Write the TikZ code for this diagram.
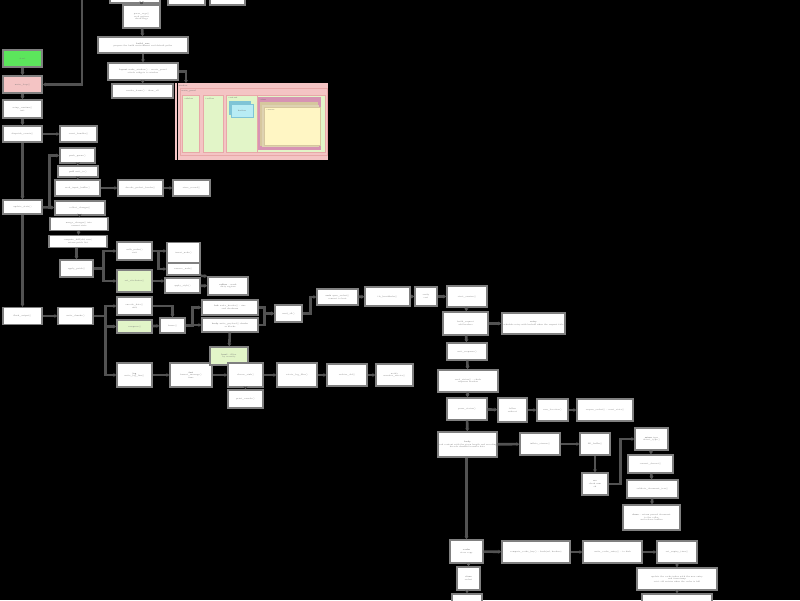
\documentclass[tikz,border=0pt]{standalone}
\usepackage{tikz}
\usetikzlibrary{arrows.meta}

\definecolor{brightgreen}{HTML}{5CE65C}
\definecolor{softgreen}{HTML}{E2F5C8}
\definecolor{softpink}{HTML}{F4C4C4}
\definecolor{deeppink}{HTML}{E8A8A8}
\definecolor{softcyan}{HTML}{B8ECF4}
\definecolor{shadecyan}{HTML}{7FC4D6}
\definecolor{softyellow}{HTML}{FFF6C4}
\definecolor{shadetan}{HTML}{D6C79E}

\tikzset{
  box/.style={draw=black!50, line width=1.4pt, fill=white, inner sep=0pt, align=center,
    font=\fontsize{2}{2.6}\selectfont, text=black!55},
  greenbox/.style={box, fill=brightgreen},
  pinkbox/.style={box, fill=softpink},
  leafbox/.style={box, fill=softgreen},
  conn/.style={draw=black!68, line width=2.6pt, -{Stealth[length=3pt,width=4pt]}},
  tag/.style={font=\fontsize{2}{2.6}\selectfont, text=black!60, inner sep=0.5pt, anchor=north west}
}

\begin{document}
\begin{tikzpicture}[x=1pt, y=-1pt]
    \useasboundingbox (0,0) rectangle (800,600);
    \fill[black] (0,0) rectangle (800,600);

    % top column
    \node[box, minimum width=50pt, minimum height=10pt] (topa) at (135,-2) {};
    \node[box, minimum width=37pt, minimum height=10pt] (topb) at (186.5,0) {};
    \node[box, minimum width=35pt, minimum height=10pt] (topc) at (227.5,0) {};
    \node[box, minimum width=37pt, minimum height=23pt] (parse) at (141.5,16.5) {parse\_args()\\ read options\\ check flags};
    \node[box, minimum width=90pt, minimum height=16pt] (build) at (143,45) {\textbf{build\_env}\\ prepare the build environment and default paths};
    \node[box, minimum width=70pt, minimum height=17pt] (layout) at (143,71.5) {\textbf{layout} make\_window() -- create\_panel\\ attach widgets to window};
    \node[box, minimum width=61pt, minimum height=14pt] (render) at (142.5,91) {render\_frame() -- draw\_all};

    % left column
    \node[greenbox, minimum width=39pt, minimum height=17pt] (start) at (22.5,58.5) {start};
    \node[pinkbox, minimum width=39pt, minimum height=17pt] (entry) at (22.5,84.5) {main\_loop()};
    \node[box, minimum width=39pt, minimum height=18pt] (setup) at (22.5,109) {setup\_runtime()\\ init};
    \node[box, minimum width=39pt, minimum height=16pt] (events) at (22.5,134) {dispatch\_events()};
    \node[box, minimum width=37pt, minimum height=16pt] (handler) at (78.5,134) {event\_handler()};
    \node[box, minimum width=35pt, minimum height=15pt] (queue) at (77.5,155.5) {push\_queue()};
    \node[box, minimum width=40pt, minimum height=11pt] (poll) at (78,171.5) {\textbf{poll} wait\_io()};
    \node[box, minimum width=45pt, minimum height=16pt] (readin) at (77.5,188) {read\_input\_buffer()};
    \node[box, minimum width=45pt, minimum height=16pt] (decode) at (140.5,188) {decode\_packet\_header()};
    \node[box, minimum width=37pt, minimum height=16pt] (store) at (191.5,188) {store\_record()};
    \node[box, minimum width=39pt, minimum height=14pt] (update) at (22.5,207) {update\_state()};
    \node[box, minimum width=50pt, minimum height=14pt] (collect) at (80,208) {collect\_changes()};
    \node[box, minimum width=58pt, minimum height=13pt] (merge) at (79,224) {merge\_changes() into\\ current state};
    \node[box, minimum width=58pt, minimum height=12pt] (diff) at (78,241.5) {compute\_diff(old, new)\\ return patch list};
    \node[box, minimum width=33pt, minimum height=17pt] (patch) at (76.5,268.5) {apply\_patch()};
    \node[box, minimum width=35pt, minimum height=18pt] (nodes) at (134.5,251) {walk\_nodes()\\ visit};
    \node[leafbox, minimum width=35pt, minimum height=22pt] (attrs) at (134.5,281) {set\_attributes()};
    \node[box, minimum width=33pt, minimum height=20pt] (insert) at (183.5,252.5) {insert\_node()};
    \node[box, minimum width=33pt, minimum height=12pt] (remove) at (183.5,269) {remove\_node()};
    \node[box, minimum width=35pt, minimum height=15pt] (style) at (182.5,285.5) {apply\_style()};
    \node[box, minimum width=40pt, minimum height=18pt] (reflow) at (228,286) {\textbf{reflow} -- mark\\ dirty regions};
    \node[box, minimum width=39pt, minimum height=17pt] (output) at (22.5,316) {flush\_output()};
    \node[box, minimum width=35pt, minimum height=17pt] (writer) at (75.5,316) {write\_chunks()};
    \node[box, minimum width=35pt, minimum height=18pt] (encode) at (134.5,306) {encode\_data()\\ utf8};
    \node[leafbox, minimum width=35pt, minimum height=13pt] (compress) at (134.5,326.5) {compress()};
    \node[box, minimum width=25pt, minimum height=15pt] (frame) at (172.5,325.5) {frame()};
    \node[box, minimum width=56pt, minimum height=15pt] (header) at (230,307.5) {\textbf{hdr} write\_header() -- size\\ and checksum};
    \node[box, minimum width=56pt, minimum height=14pt] (body) at (230,325) {\textbf{body} write\_payload() chunks\\ as blocks};
    \node[box, minimum width=27pt, minimum height=17pt] (send) at (288.5,313.5) {send\_all()};

    % middle row
    \node[box, minimum width=41pt, minimum height=16pt] (socket) at (337.5,297) {\textbf{sock} open\_socket()\\ connect to host};
    \node[box, minimum width=45pt, minimum height=19pt] (handshake) at (387.5,296.5) {tls\_handshake()};
    \node[box, minimum width=22pt, minimum height=19pt] (verify) at (426,296.5) {verify\\ cert};
    \node[box, minimum width=40pt, minimum height=21pt] (session) at (467,296.5) {start\_session()};
    \node[box, minimum width=45pt, minimum height=23pt] (request) at (465.5,323.5) {build\_request\\ add headers};
    \node[box, minimum width=63pt, minimum height=21pt] (retry) at (533.5,323.5) {\textbf{retry}\\ schedule retry with backoff when the request fails};
    \node[box, minimum width=40pt, minimum height=17pt] (wait) at (467,351.5) {wait\_response()};
    \node[box, minimum width=60pt, minimum height=22pt] (response) at (468,381) {read\_status() -- check\\ response headers};
    \node[box, minimum width=40pt, minimum height=22pt] (status) at (467,409) {parse\_status()};
    \node[box, minimum width=29pt, minimum height=24pt] (redirect) at (512.5,410) {follow\\ redirect};
    \node[box, minimum width=31pt, minimum height=22pt] (location) at (552.5,410) {new\_location()};
    \node[box, minimum width=56pt, minimum height=22pt] (reopen) at (605,410) {reopen\_socket() -- reset\_state()};
    \node[box, minimum width=59pt, minimum height=25pt] (content) at (467.5,444.5) {\textbf{body}\\ read content with the given length and encoding\\ decode chunked transfer data};
    \node[box, minimum width=40pt, minimum height=22pt] (inflate) at (540,444) {inflate\_stream()};
    \node[box, minimum width=30pt, minimum height=22pt] (buffer) at (595,444) {fill\_buffer()};
    \node[box, minimum width=26pt, minimum height=22pt] (check) at (595,484) {\textbf{crc}\\ check sum\\ ok};
    \node[box, minimum width=33pt, minimum height=22pt] (mime) at (651.5,439) {\textbf{mime} type\\ detect\_type()};
    \node[box, minimum width=45pt, minimum height=18pt] (charset) at (650.5,464) {convert\_charset()};
    \node[box, minimum width=51pt, minimum height=18pt] (validate) at (652.5,489) {validate\_document\_tree()};
    \node[box, minimum width=57pt, minimum height=25pt] (result) at (651.5,517.5) {\textbf{done} -- return parsed document\\ to the caller\\ and release buffers};
    \node[box, minimum width=33pt, minimum height=23pt] (cache) at (466.5,551.5) {\textbf{cache}\\ store copy};
    \node[box, minimum width=68pt, minimum height=22pt] (cachekey) at (536,552) {compute\_cache\_key() -- hash(url, headers)};
    \node[box, minimum width=59pt, minimum height=22pt] (cachewrite) at (612.5,552) {write\_cache\_entry() -- to disk};
    \node[box, minimum width=40pt, minimum height=22pt] (expire) at (677,552) {set\_expiry\_time()};
    \node[box, minimum width=80pt, minimum height=22pt] (index) at (677,579) {update the cache index with the new entry\\ and timestamp\\ evict old entries when the cache is full};
    \node[box, minimum width=70pt, minimum height=12pt] (indexnext) at (677,600) {};
    \node[box, minimum width=23pt, minimum height=23pt] (close) at (468.5,578.5) {\textbf{close}\\ socket};
    \node[box, minimum width=30pt, minimum height=12pt] (closenext) at (467,600) {};

    % lower left row
    \node[box, minimum width=35pt, minimum height=24pt] (logger) at (134.5,375) {\textbf{log}\\ write\_log\_line()};
    \node[box, minimum width=42pt, minimum height=24pt] (format) at (191,375) {\textbf{fmt}\\ format\_message()\\ time};
    \node[leafbox, minimum width=38pt, minimum height=18pt] (level) at (229,356) {\textbf{level} -- filter\\ by severity};
    \node[box, minimum width=35pt, minimum height=24pt] (sink) at (245.5,375) {choose\_sink()};
    \node[box, minimum width=35pt, minimum height=18pt] (console) at (245.5,399) {print\_console()};
    \node[box, minimum width=40pt, minimum height=24pt] (rotate) at (297,375) {rotate\_log\_files()};
    \node[box, minimum width=40pt, minimum height=22pt] (archive) at (347,375) {archive\_old()};
    \node[box, minimum width=37pt, minimum height=22pt] (notify) at (394.5,375) {notify\\ monitor\_service()};

    % nested panels
    \fill[softpink] (175,83) rectangle (328,160);
    \draw[black, line width=1pt] (177,83) -- (177,160);
    \node[tag] (winlbl) at (178,84) {window};
    \draw[deeppink, fill=softpink, line width=0.8pt] (180,88) rectangle (327,155);
    \node[tag] (panellbl) at (181,89) {main\_panel};
    \draw[deeppink, fill=softgreen, line width=0.8pt] (182,95) rectangle (199,152);
    \node[tag] (col1lbl) at (184,97) {sidebar};
    \draw[deeppink, fill=softgreen, line width=0.8pt] (203,95) rectangle (223,152);
    \node[tag] (col2lbl) at (205,97) {toolbar};
    \draw[deeppink, fill=softgreen, line width=0.8pt] (226,95) rectangle (257,152);
    \node[tag] (col3lbl) at (228,97) {content};
    \fill[shadecyan] (229,101) rectangle (251,115);
    \draw[shadecyan, fill=softcyan, line width=0.8pt] (231,104) rectangle (253,117);
    \node[font=\fontsize{2}{2.6}\selectfont, text=black!60] (btnlbl) at (242,110.5) {button};
    \draw[deeppink, fill=softgreen, line width=0.8pt] (257,95) rectangle (325,152);
    \fill[violet!25!softpink] (258,97) rectangle (321,150);
    \node[tag] (viewlbl) at (260,98) {view};
    \fill[shadetan] (260,102) rectangle (318,146);
    \fill[shadetan!80!white] (262,105) rectangle (319,147);
    \draw[shadetan, fill=softyellow, line width=0.6pt] (264,107) rectangle (320,145);
    \node[tag] (canvaslbl) at (266,109) {canvas};

    % connectors, top
    \draw[conn] (parse.north |- topa.south) -- (parse.north);
    \draw[conn] (parse) -- (build);
    \draw[conn] (build) -- (layout);
    \draw[conn] (layout) -- (render);
    \draw[conn] (layout.east) -| (186,83);
    \coordinate (fromtop) at (82,-5);
    \draw[conn] (fromtop) |- (entry.east);

    % connectors, left column
    \draw[conn] (start) -- (entry);
    \draw[conn] (entry) -- (setup);
    \draw[conn] (setup) -- (events);
    \draw[conn] (events) -- (handler);
    \draw[conn] (events) -- (update);
    \draw[conn] (update) -- (output);
    \draw[conn] (update) -- (collect);
    \draw[conn] (update.east) -- ++(7,0) |- (queue.west);
    \draw[conn] (queue) -- (poll);
    \draw[conn] (poll) -- (readin);
    \draw[conn] (readin) -- (decode);
    \draw[conn] (decode) -- (store);
    \draw[conn] (collect) -- (merge);
    \draw[conn] (merge) -- (diff);
    \draw[conn] (diff.south -| patch.north) -- (patch.north);
    \draw[conn] (patch.east) -- ++(10,0) |- (nodes.west);
    \draw[conn] (patch.east) -- ++(10,0) |- (attrs.west);
    \draw[conn] (nodes.east) -- (insert.west |- nodes.east);
    \draw[conn] (nodes.east) -- ++(6,0) |- (remove.west);
    \draw[conn] (attrs.east) -- (style.west |- attrs.east);
    \draw[conn] (style) -- (reflow);
    \draw[conn] (remove.south east) -- (reflow.north west);
    \draw[conn] (output) -- (writer);
    \draw[conn] (writer.east) -- ++(12,0) |- (encode.west);
    \draw[conn] (writer.east) -- ++(12,0) |- (compress.west);
    \draw[conn] (writer.east) -- ++(12,0) |- (logger.west);
    \draw[conn] (compress) -- (frame);
    \draw[conn] (encode.east) -| (frame.north);
    \draw[conn] (frame.east) -- ++(7,0) |- (header.west);
    \draw[conn] (frame.east) -- ++(7,0) |- (body.west);
    \draw[conn] (header.east) -- ++(6,0) |- (send.west);
    \draw[conn] (body.east) -- ++(6,0) |- (send.west);
    \draw[conn] (body) -- (level);

    % connectors, middle
    \draw[conn] (send.east) -- ++(8,0) |- (socket.west);
    \draw[conn] (socket) -- (handshake);
    \draw[conn] (handshake) -- (verify);
    \draw[conn] (verify) -- (session);
    \draw[conn] (session) -- (request);
    \draw[conn] (request) -- (retry);
    \draw[conn] (request) -- (wait);
    \draw[conn] (wait) -- (response);
    \draw[conn] (response) -- (status);
    \draw[conn] (status) -- (redirect);
    \draw[conn] (redirect) -- (location);
    \draw[conn] (location) -- (reopen);
    \draw[conn] (status) -- (content);
    \draw[conn] (content) -- (inflate);
    \draw[conn] (inflate) -- (buffer);
    \draw[conn] (buffer) -- (check);
    \draw[conn] (check.east) -- ++(12,0) |- (mime.west);
    \draw[conn] (mime) -- (charset);
    \draw[conn] (charset) -- (validate);
    \draw[conn] (validate) -- (result);
    \draw[conn] (content.south -| cache.north) -- (cache.north);
    \draw[conn] (cache) -- (cachekey);
    \draw[conn] (cachekey) -- (cachewrite);
    \draw[conn] (cachewrite) -- (expire);
    \draw[conn] (expire) -- (index);
    \draw[conn] (index) -- (indexnext);
    \draw[conn] (cache.south -| close.north) -- (close.north);
    \draw[conn] (close.south -| closenext.north) -- (closenext.north);

    % connectors, lower left
    \draw[conn] (logger) -- (format);
    \draw[conn] (format) -- (sink);
    \draw[conn] (sink) -- (console);
    \draw[conn] (sink) -- (rotate);
    \draw[conn] (rotate) -- (archive);
    \draw[conn] (archive) -- (notify);
\end{tikzpicture}
\end{document}
